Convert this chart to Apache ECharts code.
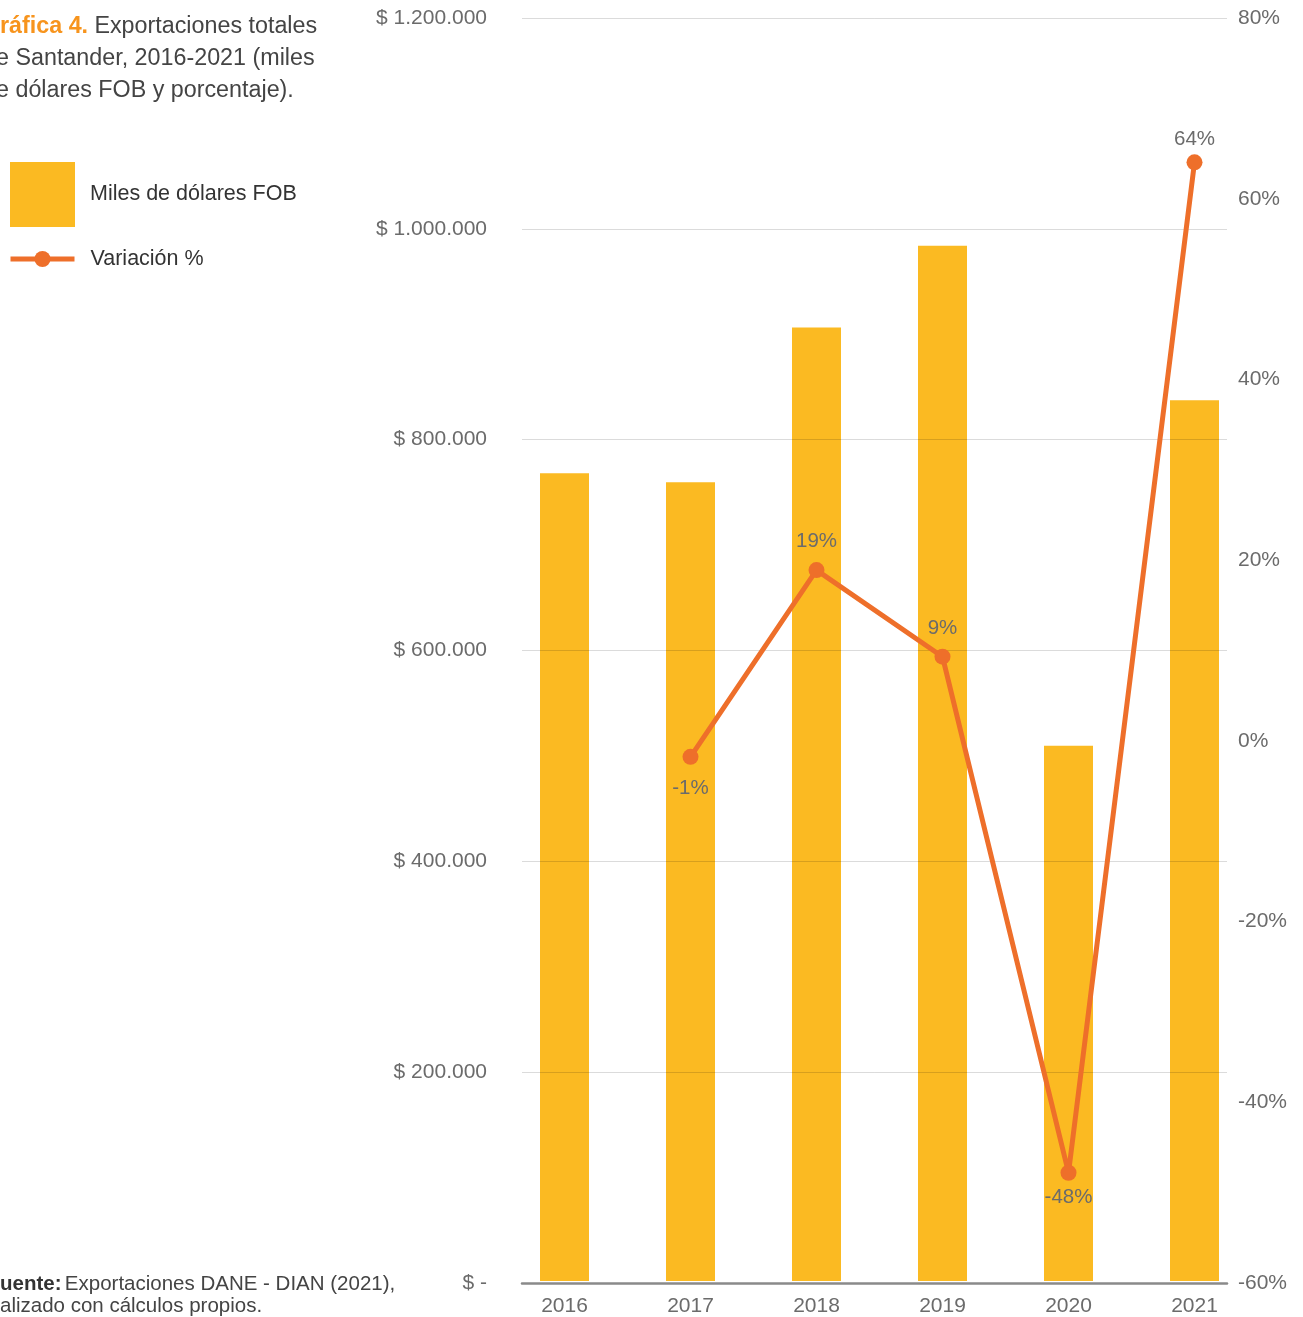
<!DOCTYPE html>
<html><head><meta charset="utf-8">
<script src="https://cdn.jsdelivr.net/npm/echarts@6/dist/echarts.min.js"></script>
<style>html,body{margin:0;padding:0;background:#fff}#c{width:1303px;height:1317px}</style>
</head><body><div id="c"></div>
<script>
const years = ['2016','2017','2018','2019','2020','2021'];
const exportsFOB = [767400, 758900, 905900, 983700, 508500, 836700];
const variation = [null, -1.9, 18.8, 9.2, -48.0, 64.0];
const variationLabels = ['', '-1%', '19%', '9%', '-48%', '64%'];
const labelPos = ['top', 'bottom', 'top', 'top', 'bottom', 'top'];
const labelDist = [5, 13, 10, 10, 6, 4];

const FONT = '"Liberation Sans", Arial, sans-serif';
const BAR = '#FBBA22', LINE = '#EE6F2A', TICK = '#6b6b6b';

const chart = echarts.init(document.getElementById('c'));
const fmtMoney = v => v === 0 ? '$ -' : '$ ' + String(v).replace(/\B(?=(\d{3})+(?!\d))/g, '.');

chart.setOption({
  animation: false,
  textStyle: {fontFamily: FONT},
  grid: [
    {left: 522, right: 76, top: 18, bottom: 34},
    {left: 501.5, right: 45.5, top: 18, bottom: 34}
  ],
  legend: [
    {data: ['Miles de dólares FOB'], left: 10, top: 162, padding: 0, itemWidth: 65, itemHeight: 65, icon: 'rect',
     textStyle: {fontSize: 21.5, color: '#333', fontFamily: FONT, padding: [8,0,0,10]}},
    {data: ['Variación %'], left: 8, top: 248, padding: 0, itemWidth: 64, itemHeight: 20,
     lineStyle: {width: 5},
     textStyle: {fontSize: 21.5, color: '#333', fontFamily: FONT, padding: [4,0,0,11]}}
  ],
  xAxis: [
    {type: 'category', gridIndex: 0, data: years, z: 4,
     axisLine: {show: true, lineStyle: {color: '#8a8a8a', width: 2.5}},
     axisTick: {show: false}, axisLabel: {show: false}},
    {type: 'category', gridIndex: 1, data: years,
     axisLine: {show: false}, axisTick: {show: false},
     axisLabel: {fontSize: 21, color: TICK, margin: 15, fontFamily: FONT}}
  ],
  yAxis: [
    {type: 'value', gridIndex: 0, min: 0, max: 1200000, interval: 200000, z: 3,
     axisLabel: {formatter: fmtMoney, fontSize: 21, color: TICK, margin: 35, fontFamily: FONT},
     axisLine: {show: false}, axisTick: {show: false},
     splitLine: {lineStyle: {color: 'rgba(0,0,0,0.14)', width: 1}}},
    {type: 'value', gridIndex: 0, min: -60, max: 80, interval: 20, position: 'right',
     axisLabel: {formatter: '{value}%', fontSize: 21, color: TICK, margin: 11, fontFamily: FONT},
     axisLine: {show: false}, axisTick: {show: false}, splitLine: {show: false}},
    {type: 'value', gridIndex: 1, min: 0, max: 1200000, show: false, splitLine: {show: false}},
    {type: 'value', gridIndex: 1, min: -60, max: 80, show: false, splitLine: {show: false}}
  ],
  series: [
    {name: 'Miles de dólares FOB', type: 'bar', xAxisIndex: 1, yAxisIndex: 2,
     data: exportsFOB, barWidth: 49, itemStyle: {color: BAR}, z: 2},
    {name: 'Variación %', type: 'line', xAxisIndex: 1, yAxisIndex: 3, z: 6,
     data: variation.map((v, i) => ({value: v, label: {position: labelPos[i], distance: labelDist[i]}})),
     symbol: 'circle', symbolSize: 16, connectNulls: false,
     lineStyle: {color: LINE, width: 5}, itemStyle: {color: LINE},
     label: {show: true, fontSize: 20.5, color: TICK, fontFamily: FONT,
       formatter: p => variationLabels[p.dataIndex]}}
  ],
  graphic: [
    {type: 'text', left: 0, top: 15, style: {
      text: '{a|ráfica 4.} {b|Exportaciones totales}',
      rich: {a: {fontSize: 23.3, fontWeight: 'bold', fill: '#F7941D', fontFamily: FONT},
             b: {fontSize: 23.3, fill: '#444', fontFamily: FONT, padding: [0,0,0,3]}}}},
    {type: 'text', left: -4, top: 47, style: {text: 'e Santander, 2016-2021 (miles', fontSize: 23.3, fill: '#444', fontFamily: FONT}},
    {type: 'text', left: -4, top: 79, style: {text: 'e dólares FOB y porcentaje).', fontSize: 23.3, fill: '#444', fontFamily: FONT}},
    {type: 'text', left: 0, top: 1274, style: {
      text: '{a|uente:} {b|Exportaciones DANE - DIAN (2021),}',
      rich: {a: {fontSize: 20.5, fontWeight: 'bold', fill: '#333', fontFamily: FONT},
             b: {fontSize: 20.5, fill: '#444', fontFamily: FONT}}}},
    {type: 'text', left: 0, top: 1296, style: {text: 'alizado con cálculos propios.', fontSize: 20.5, fill: '#444', fontFamily: FONT}}
  ]
});
</script></body></html>
